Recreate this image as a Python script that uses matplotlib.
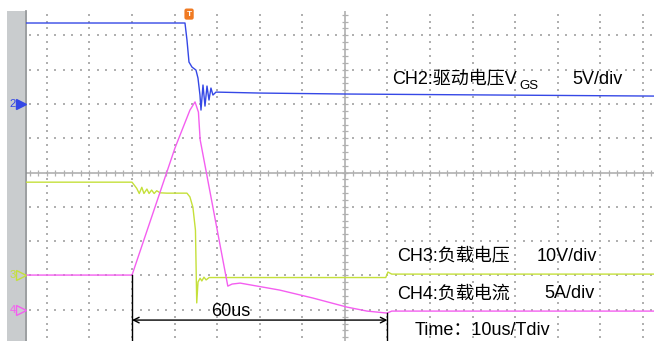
import matplotlib
matplotlib.use('Agg')
import numpy as np
import matplotlib.pyplot as plt
from matplotlib.patches import Rectangle

plt.rcParams['font.family'] = ['Liberation Sans', 'Noto Sans CJK SC']

# screen: time in us (10 us/div), vertical in divisions
t_left, t_right = -74.9, 72.6
div_top, div_bottom = 4.71, -4.91

# CH2: drive voltage VGS, 5 V/div, reference at +2 div
ch2_scale, ch2_ref = 5.0, 2.0
ch2_t = [-74.9, -37.56, -37.09, -36.62, -35.92, -34.98, -34.51, -34.04, -33.80,
         -33.33, -32.86, -32.39, -31.92, -31.46, -30.99, -30.28, -19.95, 0.0, 72.6]
ch2_v = [11.8, 11.8, 9.31, 6.11, 5.38, 4.94, 3.78, 1.30, -0.89,
         2.76, -0.31, 2.61, 0.57, 2.32, 1.30, 1.73, 1.59, 1.45, 1.15]

# CH3: load voltage, 10 V/div, reference at -3 div
ch3_scale, ch3_ref = 10.0, -3.0
ch3_t = [-74.9, -50.0, -48.9, -48.3, -47.7, -47.2, -46.5, -46.0, -45.4, -44.8,
         -44.2, -43.4, -41.8, -37.1, -36.4, -35.7, -35.1, -34.8, -34.5, -34.0,
         -33.6, -33.1, -32.6, -31.9, 9.6, 10.1, 11.0, 72.6]
ch3_v = [27.2, 27.2, 25.4, 23.9, 25.7, 23.9, 25.2, 23.9, 24.9, 23.9,
         24.7, 24.1, 24.0, 24.0, 22.9, 19.9, 13.2, -8.0, -1.9, -0.8,
         -1.6, -0.5, -1.3, -0.6, -0.6, 1.0, 0.4, 0.4]

# CH4: load current, 5 A/div, reference at -4 div
ch4_scale, ch4_ref = 5.0, -4.0
ch4_t = [-74.9, -50.0, -39.9, -36.4, -35.2, -34.4, -34.0, -27.5, -26.5, -24.6,
         -15.3, -7.5, 0.5, 5.2, 9.9, 11.0, 72.6]
ch4_i = [5.06, 5.06, 23.6, 29.1, 30.3, 28.8, 24.8, 3.45, 3.75, 3.89,
         2.87, 1.71, 0.39, -0.19, -0.48, -0.19, -0.19]

# cursors
cur_t1, cur_t2 = -50.0, 10.0
trig_t = -36.6

blue = '#3548e6'
green = '#c5e03a'
pink = '#f45ef0'

fig = plt.figure(figsize=(6.54, 3.41), dpi=100)
ax = fig.add_axes([26 / 654, 0, 628 / 654, 330 / 341])
ax.set_xlim(t_left, t_right)
ax.set_ylim(div_bottom, div_top)
ax.set_xticks([])
ax.set_yticks([])
for s in ['top', 'right', 'bottom']:
    ax.spines[s].set_visible(False)
ax.spines['left'].set_color('#8a8d90')
ax.spines['left'].set_linewidth(1.2)

# grey strip at the left
fig.add_artist(Rectangle((7 / 654, 0), 18 / 654, 330 / 341, transform=fig.transFigure,
                         facecolor='#c9ccce', edgecolor='none', zorder=-1))

# dotted graticule
minor_t = np.arange(-74, 73, 2.0)
minor_d = np.arange(-4.8, 4.8, 0.2)
for k in range(-7, 8):
    if k == 0:
        continue
    ax.scatter(np.full(len(minor_d), k * 10.0), minor_d, s=1.5, marker='s',
               color='#b0b0b0', linewidths=0, zorder=1)
for k in range(-4, 5):
    if k == 0:
        continue
    ax.scatter(minor_t, np.full(len(minor_t), float(k)), s=1.5, marker='s',
               color='#b0b0b0', linewidths=0, zorder=1)
# centre lines with ticks
ax.axhline(0, color='#b0b0b0', lw=1.2, zorder=1)
ax.axvline(0, color='#b0b0b0', lw=1.2, zorder=1)
ax.plot(minor_t, np.zeros(len(minor_t)), ls='none', marker='|', ms=5,
        mew=0.9, color='#b0b0b0', zorder=1)
ax.plot(np.zeros(len(minor_d)), minor_d, ls='none', marker='_', ms=5,
        mew=0.9, color='#b0b0b0', zorder=1)

# traces
ax.plot(ch3_t, np.array(ch3_v) / ch3_scale + ch3_ref, color=green, lw=1.0, zorder=3)
ax.plot(ch4_t, np.array(ch4_i) / ch4_scale + ch4_ref, color=pink, lw=1.0, zorder=3)
ax.plot(ch2_t, np.array(ch2_v) / ch2_scale + ch2_ref, color=blue, lw=1.0, zorder=4)

# cursor lines and 60us arrow
y_c1 = ch4_i[1] / ch4_scale + ch4_ref
y_c2 = ch4_i[14] / ch4_scale + ch4_ref
ax.plot([cur_t1, cur_t1], [y_c1, div_bottom], color='black', lw=1.0, zorder=5)
ax.plot([cur_t2, cur_t2], [y_c2, div_bottom], color='black', lw=1.0, zorder=5)
ax.annotate('', xy=(cur_t1, -4.30), xytext=(cur_t2, -4.30),
            arrowprops=dict(arrowstyle='<->', color='black', lw=1.0,
                            shrinkA=0, shrinkB=0, mutation_scale=10), zorder=5)
ax.text(-26.8, -4.04, '60us', fontsize=13, ha='center', va='center', zorder=6)

# channel reference markers
for lab, ref, col, fill in [('2', ch2_ref, blue, blue), ('3', ch3_ref, green, 'none'),
                            ('4', ch4_ref, pink, 'none')]:
    ax.text(-78.0, ref, lab, color=col, fontsize=8, ha='center', va='center', clip_on=False)
    ax.plot([-76.0], [ref], marker='>', ms=7, color=col, mfc=fill, mew=1.0,
            clip_on=False, zorder=6)

# trigger marker
ax.text(trig_t, 4.62, 'T', color='white', fontsize=6, fontweight='bold', ha='center',
        va='center', zorder=7, clip_on=False,
        bbox=dict(boxstyle='round,pad=0.25', fc='#f07a22', ec='none'))

# labels
ax.text(11.0, 2.70, 'CH2:驱动电压V', fontsize=13, va='center', ha='left', zorder=6)
ax.text(41.0, 2.52, 'GS', fontsize=9.5, va='center', ha='left', zorder=6)
ax.text(53.5, 2.70, '5V/div', fontsize=13, va='center', ha='left', zorder=6)
ax.text(12.2, -2.45, 'CH3:负载电压', fontsize=13, va='center', ha='left', zorder=6)
ax.text(45.1, -2.45, '10V/div', fontsize=13, va='center', ha='left', zorder=6)
ax.text(12.2, -3.53, 'CH4:负载电流', fontsize=13, va='center', ha='left', zorder=6)
ax.text(46.9, -3.53, '5A/div', fontsize=13, va='center', ha='left', zorder=6)
ax.text(16.4, -4.59, 'Time：10us/Tdiv', fontsize=13, va='center', ha='left', zorder=6)

fig.savefig('out.png', dpi=100)
